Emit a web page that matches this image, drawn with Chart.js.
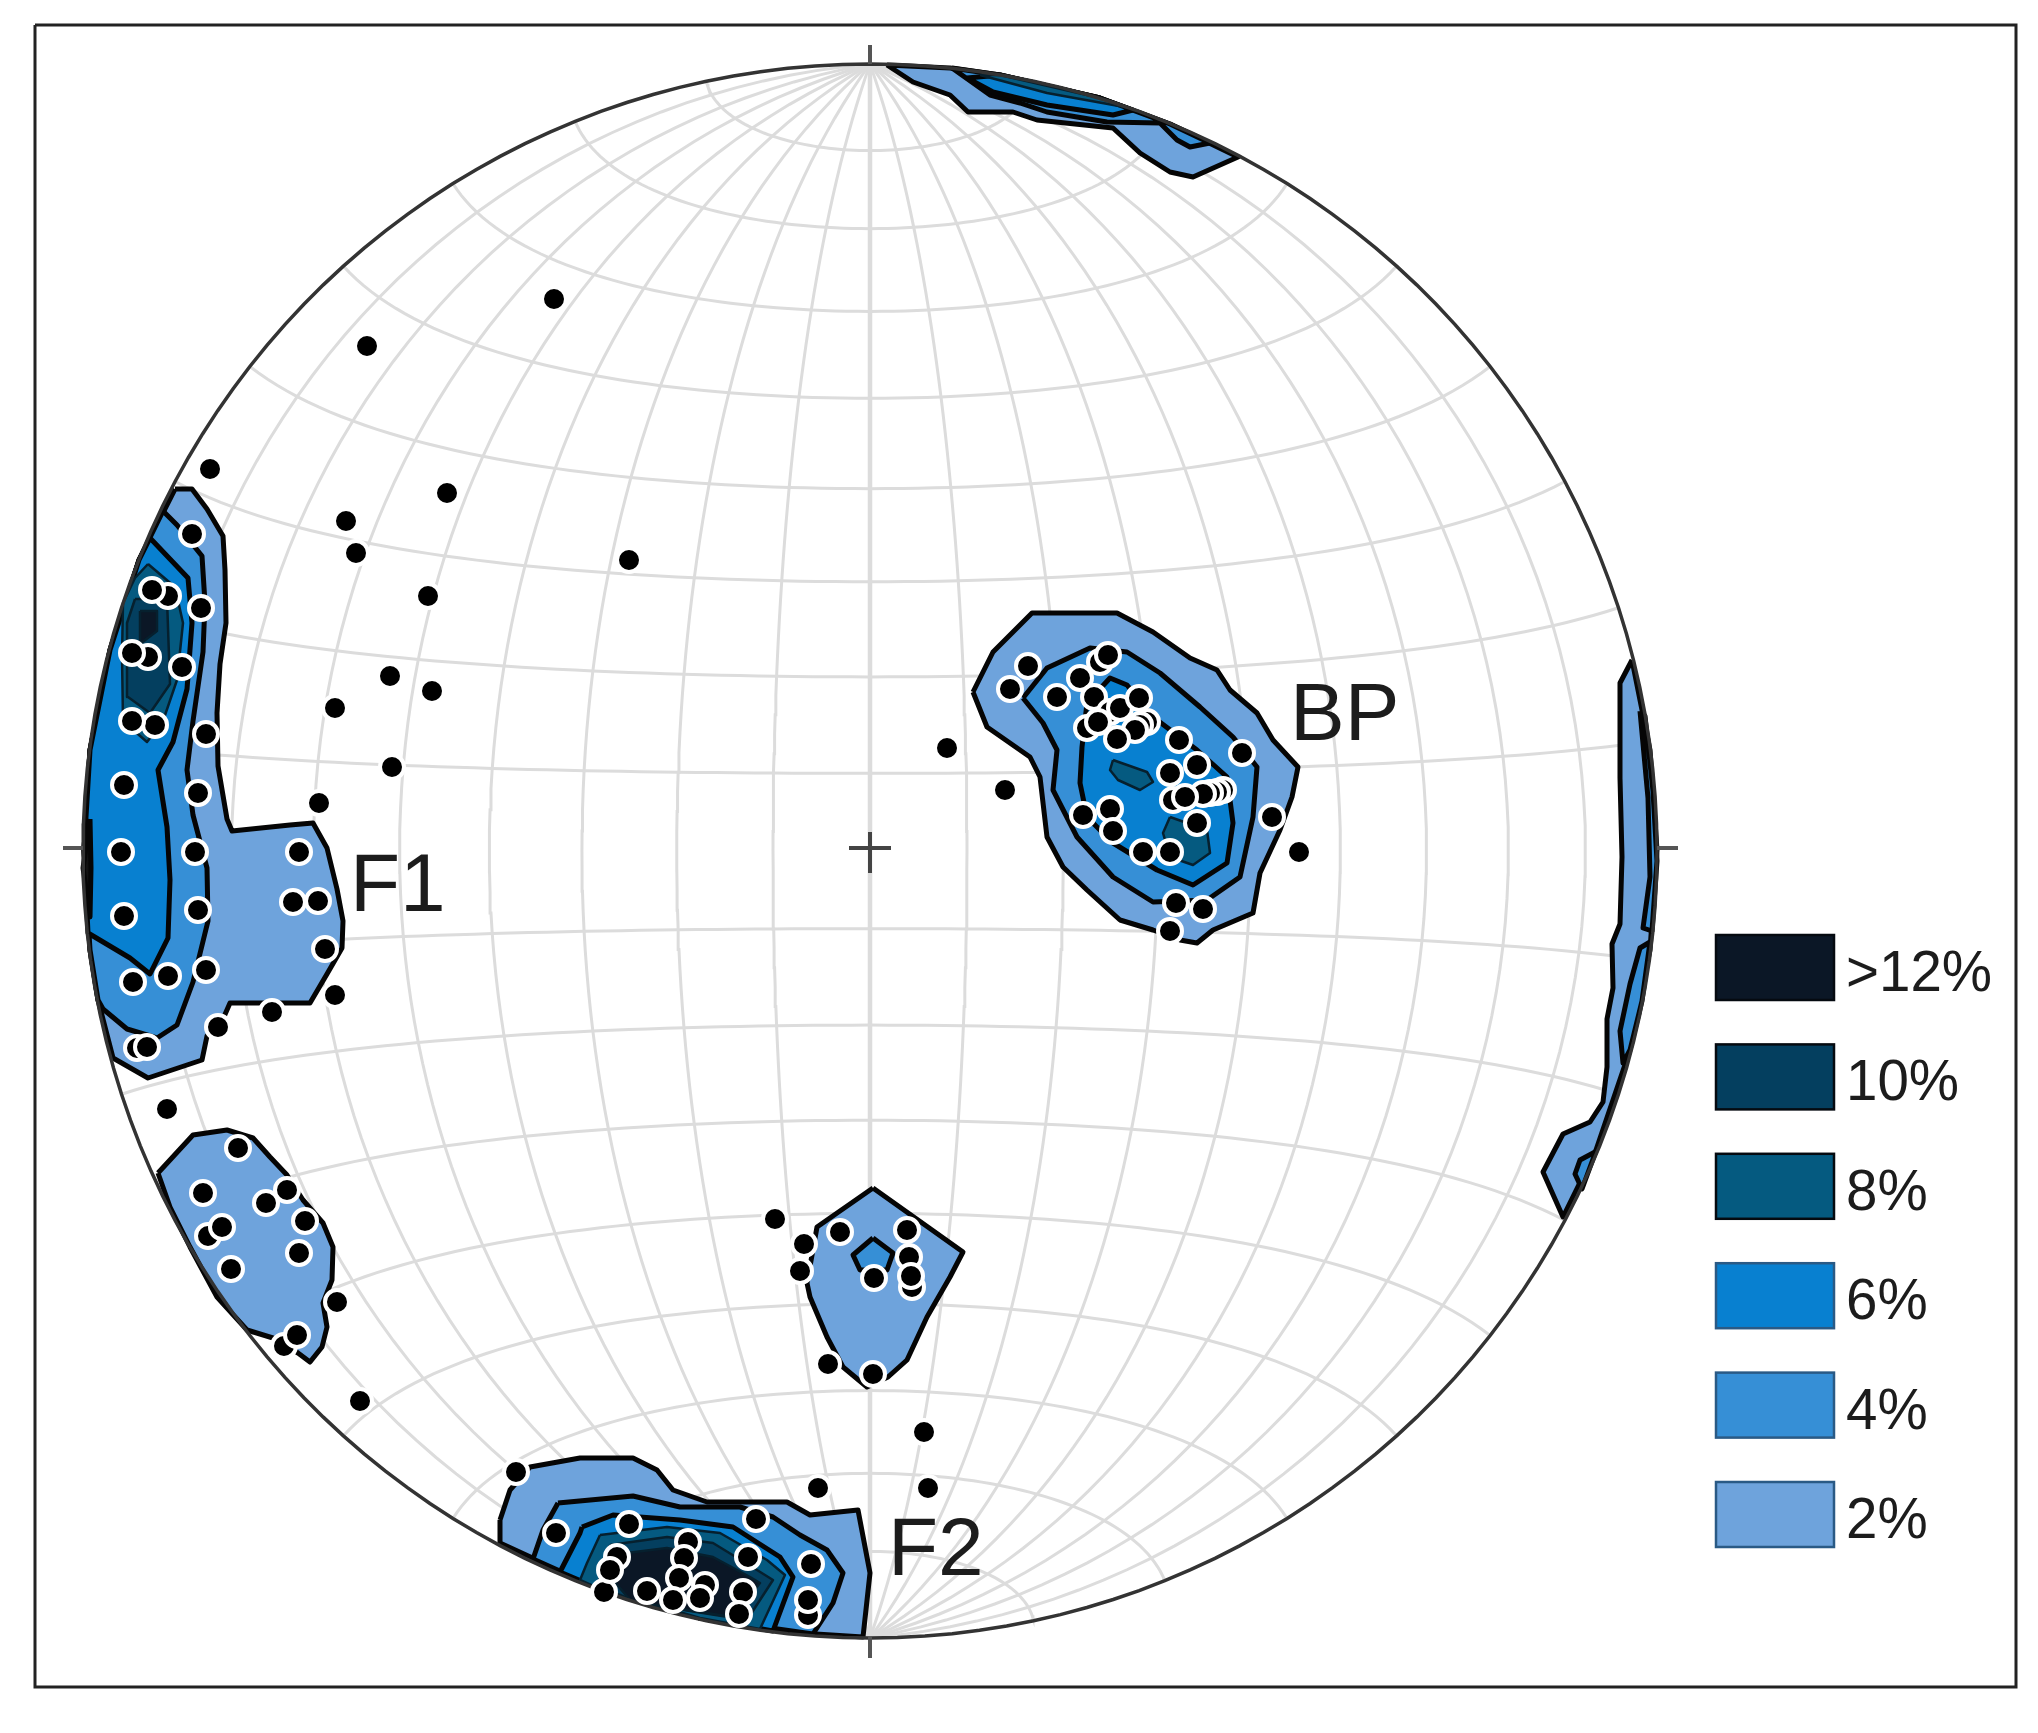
<!DOCTYPE html>
<html>
<head>
<meta charset="utf-8">
<title>Stereonet</title>
<script src="https://cdn.jsdelivr.net/npm/chart.js@4/dist/chart.umd.min.js"></script>
<style>
  html, body { margin: 0; padding: 0; background: #fff; }
  canvas { display: block; }
</style>
</head>
<body>
<canvas id="net" width="2038" height="1733"></canvas>
<script>
/* ===== Net coordinates: origin at the centre, north up, primitive circle radius 787 ===== */

const netRadius = 787;

// Grid of the equal-area net, in degrees
const parallelLats = [8, 18, 28, 38, 48, 58, 68, 78, -8, -18, -28, -38, -48, -58, -68, -78];
const meridianLons = [-80, -70, -60, -50, -40, -30, -20, -10, 10, 20, 30, 40, 50, 60, 70, 80];

// Poles
const polesF1 = [[-316,552],[-503,505],[-241,291],[-660,382],[-423,358],[-524,330],[-514,298],[-442,255],[-480,175],[-438,160],[-535,143],[-478,84],[-551,48],[-535,-144],[-598,-161],[-652,-176],
  [-678,317],[-702,255],[-718,261],[-669,243],[-722,194],[-738,198],[-688,184],[-715,126],[-738,130],[-664,117],[-746,66],[-672,58],[-749,-1],[-675,-1],[-571,-1],
  [-577,-51],[-552,-50],[-746,-65],[-672,-59],[-545,-98],[-737,-131],[-702,-125],[-664,-119],[-733,-197],[-723,-196]];
const polesSW = [[-703,-258],[-632,-297],[-667,-342],[-583,-339],[-604,-352],[-565,-370],[-662,-385],[-648,-376],[-571,-402],[-639,-418],[-533,-451],[-586,-495],[-573,-484],[-510,-550]];
const polesCentre = [[-95,-368],[-66,-393],[-70,-420],[-30,-381],[37,-379],[39,-406],[42,-436],[41,-425],[4,-427],[-42,-513],[3,-523]];
const polesF2 = [[54,-581],[58,-637],[-52,-637],[-354,-621],[-314,-682],[-241,-673],[-114,-668],[-266,-741],[-253,-706],[-260,-719],[-223,-740],[-182,-691],[-186,-707],
  [-191,-727],[-197,-749],[-165,-734],[-170,-747],[-122,-706],[-127,-741],[-131,-763],[-59,-713],[-62,-764],[-62,-749]];
const polesBP = [[77,103],[135,61],[429,-1],[158,185],[140,162],[230,189],[238,196],[187,154],[210,173],[224,154],[240,139],[250,143],[269,153],[217,123],[228,129],
  [277,129],[270,126],[265,121],[247,112],[309,111],[372,98],[327,86],[300,78],[353,61],[347,59],[340,58],[303,51],[333,57],[315,54],[240,42],[213,36],[243,20],[327,28],
  [402,34],[273,-1],[300,-1],[306,-52],[333,-58],[300,-80]];

// Density contours
const contourF1p2 = [[-695,362],[-678,362],[-663,342],[-647,315],[-645,281],[-644,228],[-650,187],[-653,138],[-652,85],[-643,32],[-638,20],[-580,26],[-557,28],[-543,3],
  [-533,-38],[-527,-70],[-528,-97],[-543,-123],[-560,-152],[-640,-152],[-647,-168],[-663,-185],[-668,-209],[-722,-227],[-757,-207],[-772,-149],[-780,-99],[-786,1],[-780,101],[-760,201],[-731,291]];
const contourF1p4 = [[-707,340],[-693,326],[-668,295],[-665,248],[-667,199],[-677,130],[-683,81],[-677,36],[-663,-17],[-662,-70],[-677,-131],[-693,-174],[-713,-187],[-743,-178],[-767,-158],
  [-772,-149],[-780,-99],[-786,1],[-780,101],[-760,201],[-731,291]];
const contourF1p6 = [[-720,313],[-682,273],[-678,228],[-683,162],[-697,109],[-712,81],[-703,24],[-700,-29],[-702,-87],[-720,-123],[-740,-107],[-782,-82],[-786,1],[-780,101],[-760,201],[-731,291]];
const contourF1p8 = [[-722,287],[-695,264],[-687,228],[-693,171],[-707,130],[-723,109],[-747,130],[-748,195],[-747,248],[-735,273]];
const contourF1p10 = [[-735,252],[-703,252],[-700,167],[-720,138],[-742,154],[-743,228]];
const contourF1p12 = [[-730,240],[-713,240],[-713,220],[-730,207]];
const contourF1Edge = [[-780,32],[-779,-17],[-780,-66],[-787,-17]];

const contourSWp2 = [[-712,-322],[-677,-284],[-643,-279],[-617,-287],[-600,-306],[-583,-324],[-567,-349],[-547,-372],[-537,-396],[-538,-429],[-547,-452],[-543,-476],[-548,-496],[-560,-511],
  [-572,-502],[-597,-487],[-623,-479],[-653,-446],[-680,-396],[-700,-356]];

const contourCentreP2 = [[3,-337],[93,-401],[80,-426],[57,-466],[37,-509],[18,-526],[-3,-536],[-27,-516],[-43,-486],[-60,-446],[-63,-432],[-53,-376]];
const contourCentreP4 = [[3,-387],[23,-402],[17,-419],[-10,-419],[-17,-404]];

const contourBPp2 = [[103,159],[123,199],[162,238],[247,238],[283,219],[320,193],[347,181],[360,161],[387,138],[403,111],[428,84],[422,54],[410,21],[390,-22],[383,-62],[343,-79],[327,-92],
  [310,-89],[283,-79],[250,-69],[217,-39],[193,-16],[177,14],[170,74],[160,94],[117,124]];
const contourBPp4 = [[153,153],[177,183],[220,203],[257,199],[290,178],[330,144],[363,114],[387,84],[383,34],[370,-26],[337,-49],[283,-51],[243,-26],[207,14],[183,61],[187,101],[173,128]];
const contourBPp6 = [[212,104],[217,148],[240,173],[257,166],[283,134],[327,101],[357,74],[363,28],[357,-12],[323,-34],[287,-19],[243,8],[217,34],[210,68]];
const contourBPp8a = [[243,91],[277,79],[283,69],[270,61],[248,71],[240,81]];
const contourBPp8b = [[300,34],[337,21],[340,-2],[323,-14],[300,-6],[293,18]];

const contourF2p2 = [[-370,-669],[-360,-639],[-340,-616],[-290,-607],[-237,-607],[-213,-619],[-197,-639],[-163,-651],[-83,-651],[-60,-664],[-12,-659],[0,-722],[-7,-786],[-70,-782],[-170,-767],[-270,-738],[-370,-692]];
const contourF2p4 = [[-312,-652],[-237,-645],[-190,-656],[-130,-656],[-97,-666],[-70,-684],[-43,-699],[-27,-722],[-37,-752],[-57,-783],[-170,-767],[-270,-738],[-337,-708],[-327,-679]];
const contourF2p6 = [[-288,-676],[-257,-664],[-190,-669],[-137,-676],[-90,-706],[-77,-726],[-97,-780],[-170,-767],[-270,-738],[-310,-721],[-290,-682]];
const contourF2p8 = [[-270,-684],[-203,-676],[-150,-682],[-103,-709],[-85,-724],[-110,-778],[-170,-767],[-270,-738],[-290,-729],[-283,-712]];
const contourF2p10 = [[-260,-694],[-203,-686],[-157,-692],[-113,-719],[-97,-729],[-123,-769],[-230,-752],[-250,-744],[-273,-736]];
const contourF2p12 = [[-243,-702],[-203,-697],[-157,-706],[-120,-726],[-110,-732],[-137,-766],[-230,-752],[-240,-749],[-257,-729]];

const contourTopP2 = [[17,786],[43,769],[80,756],[98,739],[143,739],[167,731],[243,723],[270,698],[300,679],[323,674],[368,694],[300,727],[230,753],[130,776],[80,783]];
const contourTopP4 = [[82,783],[120,756],[150,748],[177,739],[237,729],[290,728],[307,711],[320,704],[340,708],[300,727],[230,753],[130,776]];
const contourTopP6 = [[97,773],[123,759],[177,746],[243,736],[263,741],[230,753],[130,776]];
const contourTopP8 = [[110,776],[177,758],[260,743],[230,753],[130,776]];

const contourEastP2 = [[762,191],[750,168],[750,73],[752,-6],[750,-73],[742,-93],[743,-137],[737,-168],[737,-216],[733,-251],[720,-271],[693,-283],[673,-321],[693,-366],[726,-299],[760,-199],[780,-99],[787,1],[780,101]];
const contourEastP4a = [[780,-91],[770,-97],[760,-133],[750,-180],[753,-212],[760,-199],[772,-150]];
const contourEastP4b = [[770,140],[778,53],[780,-26],[773,-77],[782,-80],[787,-10],[783,60],[775,135]];
const contourEastP4c = [[725,-301],[710,-309],[705,-323],[712,-338],[726,-300]];

// Labels
const clusterNames = ['F1', 'BP', 'F2'];
const clusterX = [-520, 420, 18];
const clusterY = [-60, 111, -724];
const legendLabels = ['>12%', '10%', '8%', '6%', '4%', '2%'];
const legendColors = ['#0b1726', '#043f5f', '#055a80', '#0880d0', '#368fd6', '#6ea3dc'];

const LEVEL = { p2: '#6ea3dc', p4: '#368fd6', p6: '#0880d0', p8: '#055a80', p10: '#043f5f', p12: '#0b1726' };

/** Equal-area (Schmidt) projection of a net latitude/longitude, in net units */
function netPoint(lat, lon) {
  const phi = lat * Math.PI / 180;
  const lam = lon * Math.PI / 180;
  const k = Math.sqrt(1 + Math.cos(phi) * Math.cos(lam));
  return { x: netRadius * Math.cos(phi) * Math.sin(lam) / k, y: netRadius * Math.sin(phi) / k };
}

function gridLine(points, width) {
  return { type: 'scatter', data: points, showLine: true, borderColor: '#dcdcdc', borderWidth: width, pointRadius: 0, fill: false, tension: 0 };
}

function inkLine(pairs, width, color) {
  return { type: 'scatter', data: pairs.map(p => ({ x: p[0], y: p[1] })), showLine: true, borderColor: color, borderWidth: width, pointRadius: 0, fill: false, tension: 0 };
}

/** Closed, filled contour polygon; the highest levels get a thinner outline */
function contour(pairs, color) {
  const pts = pairs.map(p => ({ x: p[0], y: p[1] }));
  pts.push(pts[0]);
  const high = color === LEVEL.p8 || color === LEVEL.p10 || color === LEVEL.p12;
  return {
    type: 'scatter', data: pts, showLine: true, fill: 'shape', backgroundColor: color,
    borderColor: high ? '#06202e' : '#050505', borderWidth: high ? 2.5 : 5, borderJoinStyle: 'round', pointRadius: 0, tension: 0
  };
}

function buildDatasets() {
  const sets = [];

  // Graticule
  parallelLats.forEach(lat => {
    const pts = [];
    for (let lon = -90; lon <= 90; lon += 2) pts.push(netPoint(lat, lon));
    sets.push(gridLine(pts, 3));
  });
  meridianLons.forEach(lon => {
    const pts = [];
    for (let lat = -90; lat <= 90; lat += 2) pts.push(netPoint(lat, lon));
    sets.push(gridLine(pts, 3));
  });
  sets.push(gridLine([netPoint(-90, 0), netPoint(90, 0)], 4.5));

  // Contours, lowest level first
  [
    [contourF1p2, LEVEL.p2], [contourF1p4, LEVEL.p4], [contourF1p6, LEVEL.p6], [contourF1p8, LEVEL.p8], [contourF1p10, LEVEL.p10], [contourF1p12, LEVEL.p12], [contourF1Edge, '#111111'],
    [contourSWp2, LEVEL.p2],
    [contourCentreP2, LEVEL.p2], [contourCentreP4, LEVEL.p4],
    [contourBPp2, LEVEL.p2], [contourBPp4, LEVEL.p4], [contourBPp6, LEVEL.p6], [contourBPp8a, LEVEL.p8], [contourBPp8b, LEVEL.p8],
    [contourF2p2, LEVEL.p2], [contourF2p4, LEVEL.p4], [contourF2p6, LEVEL.p6], [contourF2p8, LEVEL.p8], [contourF2p10, LEVEL.p10], [contourF2p12, LEVEL.p12],
    [contourTopP2, LEVEL.p2], [contourTopP4, LEVEL.p4], [contourTopP6, LEVEL.p6], [contourTopP8, LEVEL.p8],
    [contourEastP2, LEVEL.p2], [contourEastP4a, LEVEL.p4], [contourEastP4b, LEVEL.p4], [contourEastP4c, LEVEL.p4]
  ].forEach(c => sets.push(contour(c[0], c[1])));

  // Primitive circle
  const rim = [];
  for (let a = 0; a <= 360; a += 2) {
    rim.push({ x: netRadius * Math.cos(a * Math.PI / 180), y: netRadius * Math.sin(a * Math.PI / 180) });
  }
  sets.push(gridLine(rim, 3.5));
  sets[sets.length - 1].borderColor = '#333333';

  // Ticks, centre cross and the outer frame
  sets.push(inkLine([[0, 787], [0, 806]], 4, '#555555'));
  sets.push(inkLine([[0, -786], [0, -807]], 4, '#555555'));
  sets.push(inkLine([[-787, 3], [-807, 3]], 4, '#555555'));
  sets.push(inkLine([[787, 3], [808, 3]], 4, '#555555'));
  sets.push(inkLine([[-21, 3], [21, 3]], 4, '#444444'));
  sets.push(inkLine([[0, 19], [0, -22]], 4, '#444444'));
  sets.push(inkLine([[-835, 826], [1146, 826], [1146, -836], [-835, -836], [-835, 826]], 3, '#222222'));

  // Poles
  sets.push({
    type: 'scatter',
    data: [].concat(polesF1, polesSW, polesCentre, polesF2, polesBP).map(p => ({ x: p[0], y: p[1] })),
    showLine: false, pointRadius: 12, pointBorderWidth: 4, pointBackgroundColor: '#000000', pointBorderColor: '#ffffff'
  });

  // Chart.js paints the first dataset last, so hand them over back to front
  return sets.reverse();
}

/** Cluster names and the density key */
const netLabels = {
  id: 'netLabels',
  afterDatasetsDraw(chart) {
    const ctx = chart.ctx;
    const xs = chart.scales.x;
    const ys = chart.scales.y;
    ctx.save();
    ctx.textBaseline = 'alphabetic';
    ctx.textAlign = 'left';
    ctx.fillStyle = '#1c1c1c';
    ctx.font = '82px "Liberation Sans", Arial, sans-serif';
    clusterNames.forEach((name, i) => {
      ctx.fillText(name, xs.getPixelForValue(clusterX[i]), ys.getPixelForValue(clusterY[i]));
    });

    ctx.font = '56.5px "Liberation Sans", Arial, sans-serif';
    legendLabels.forEach((label, i) => {
      const top = 935 + i * 109.4;
      ctx.fillStyle = legendColors[i];
      ctx.strokeStyle = i < 3 ? '#050a10' : '#2a5a85';
      ctx.lineWidth = 2.5;
      ctx.fillRect(1716, top, 118, 65);
      ctx.strokeRect(1716, top, 118, 65);
      ctx.fillStyle = '#1c1c1c';
      ctx.fillText(label, 1846, top + 56);
    });
    ctx.restore();
  }
};

new Chart(document.getElementById('net').getContext('2d'), {
  type: 'scatter',
  data: { datasets: buildDatasets() },
  options: {
    responsive: false,
    animation: false,
    devicePixelRatio: 1,
    layout: { padding: 0, autoPadding: false },
    plugins: { legend: { display: false }, tooltip: { enabled: false } },
    scales: {
      x: { type: 'linear', display: false, min: -870, max: 1168 },
      y: { type: 'linear', display: false, min: -882, max: 851 }
    }
  },
  plugins: [netLabels]
});
</script>
</body>
</html>
